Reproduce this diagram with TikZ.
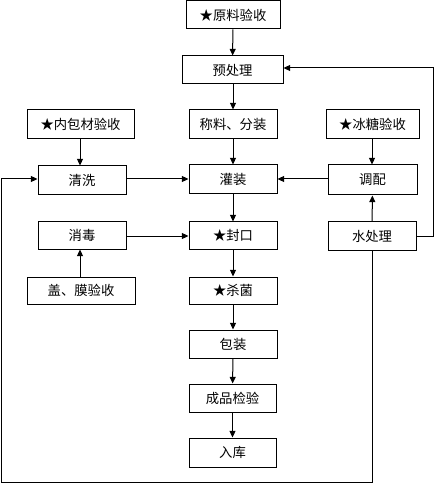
\documentclass[tikz,border=0pt]{standalone}
\usepackage{fontspec}
\setmainfont{Noto Sans CJK SC}
\usetikzlibrary{arrows.meta}
\begin{document}
\begin{tikzpicture}[x=0.75pt,y=-0.75pt,
  box/.style={draw=black,line width=0.75pt,minimum width=#1*0.75pt,inner sep=0pt,font=\fontsize{10}{12}\selectfont},
  box/.default=88,
  arr/.style={draw=black,line width=0.75pt,-{Triangle[length=5pt,width=4.5pt]}},
  ln/.style={draw=black,line width=0.75pt}]
\useasboundingbox (0,0) rectangle (434,484);
\tikzset{h/.style={minimum height=#1*0.75pt}}
\node[box=94,h=28]  (yl) at (233,15)    {★原料验收};
\node[box=101,h=28] (yc) at (232.5,70)  {预处理};
\node[box=107,h=29] (nb) at (80.5,124.5){★内包材验收};
\node[box=88,h=29]  (cl) at (233,124.5) {称料、分装};
\node[box=93,h=29]  (bt) at (372.5,124.5){★冰糖验收};
\node[box=88,h=29]  (qx) at (82,180.5)  {清洗};
\node[box=88,h=29]  (gz) at (233,179.5) {灌装};
\node[box=89,h=30]  (tp) at (372.5,180) {调配};
\node[box=88,h=27]  (xd) at (82,235.5)  {消毒};
\node[box=88,h=27]  (fk) at (233,235.5) {★封口};
\node[box=88,h=28]  (sc) at (372,236)   {水处理};
\node[box=108,h=27] (gm) at (81,290.5)  {盖、膜验收};
\node[box=88,h=27]  (sj) at (233,290.5) {★杀菌};
\node[box=88,h=28]  (bz) at (233,344)   {包装};
\node[box=87,h=28]  (cp) at (232.5,398) {成品检验};
\node[box=87,h=29]  (rk) at (232.5,452.5){入库};
\coordinate (r1) at (433,236);
\coordinate (r2) at (433,68);
\coordinate (b1) at (372,482);
\coordinate (b2) at (1,482);
\coordinate (b3) at (1,179);
\draw[arr] (yl) -- (yc);
\draw[arr] (yc.south -| cl) -- (cl);
\draw[arr] (cl) -- (gz);
\draw[arr] (nb.south -| 80,0) -- (qx.north -| 80,0);
\draw[arr] (bt.south -| 372,0) -- (tp.north -| 372,0);
\draw[arr] (qx.east |- 0,179) -- (gz.west |- 0,179);
\draw[arr] (tp.west |- 0,179) -- (gz.east |- 0,179);
\draw[arr] (gz) -- (fk);
\draw[arr] (xd.east |- 0,236) -- (fk.west |- 0,236);
\draw[arr] (gm.north -| 80,0) -- (xd.south -| 80,0);
\draw[arr] (sc) -- (tp);
\draw[arr] (fk) -- (sj);
\draw[arr] (sj) -- (bz);
\draw[arr] (bz) -- (cp);
\draw[arr] (cp) -- (rk);
\draw[arr] (sc.east |- r1) -- (r1) -- (r2) -- (yc.east |- r2);
\draw[arr] (sc.south) -- (b1) -- (b2) -- (b3) -- (qx.west |- b3);
\end{tikzpicture}
\end{document}
